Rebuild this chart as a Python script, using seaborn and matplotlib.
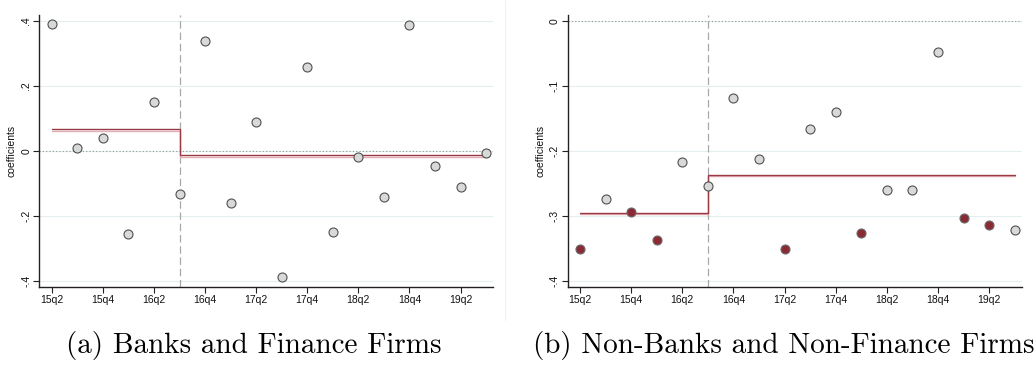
import seaborn as sns
import pandas as pd
from matplotlib import pyplot as plt
from matplotlib.lines import Line2D
from matplotlib.transforms import ScaledTranslation

quarters = ["15q2", "15q3", "15q4", "16q1", "16q2", "16q3", "16q4", "17q1", "17q2",
            "17q3", "17q4", "18q1", "18q2", "18q3", "18q4", "19q1", "19q2", "19q3"]

# panel a: banks and finance firms
coef_a = [0.391, 0.009, 0.040, -0.256, 0.149, -0.134, 0.338, -0.160, 0.090,
          -0.387, 0.257, -0.251, -0.018, -0.142, 0.386, -0.048, -0.111, -0.006]
sig_a = [0] * 18
step_a = [0.066, -0.014]

# panel b: non-banks and non-finance firms
coef_b = [-0.352, -0.274, -0.294, -0.338, -0.217, -0.254, -0.118, -0.213, -0.351,
          -0.166, -0.141, -0.326, -0.261, -0.260, -0.048, -0.304, -0.315, -0.322]
sig_b = [1, 0, 1, 1, 0, 0, 0, 0, 1, 0, 0, 1, 0, 0, 0, 1, 1, 0]
step_b = [-0.296, -0.237]

break_q = "16q3"

yticks_a = [0.4, 0.2, 0.0, -0.2, -0.4]
ylabels_a = [".4", ".2", "0", "-.2", "-.4"]
yticks_b = [0.0, -0.1, -0.2, -0.3, -0.4]
ylabels_b = ["0", "-.1", "-.2", "-.3", "-.4"]

captions = ["(a) Banks and Finance Firms", "(b) Non-Banks and Non-Finance Firms"]

sns.set_theme(style="white")
plt.rcParams['font.family'] = ['Liberation Sans', 'DejaVu Sans']

fig = plt.figure(figsize=(10.34, 3.68), dpi=100)
ax_a = fig.add_axes([0.0382, 0.220, 0.4386, 0.739])
ax_b = fig.add_axes([0.549, 0.220, 0.439, 0.739])

grey = "#d9d9d9"
red = "#8a2a35"
line_red = "#9a3a44"


def panel(ax, coef, sig, step, yticks, ylabels, ylim, caption, cx):
    df = pd.DataFrame(dict(q=range(len(quarters)), coef=coef, sig=sig))
    br = quarters.index(break_q)

    for yv in yticks:
        ax.axhline(yv, color="#e4eef0", lw=0.8, zorder=0)
    ax.axhline(0, color="#8f9a9a", lw=0.8, ls=(0, (1, 2)), zorder=1)
    ax.axvline(br, color="#a8a8a8", lw=0.9, ls=(0, (6, 3)), zorder=1)

    sx = [0, br, len(quarters) - 1]
    sy = [step[0], step[1], step[1]]
    shadow = ax.transData + ScaledTranslation(0, -1.2 / 100, fig.dpi_scale_trans)
    ax.plot(sx, sy, drawstyle="steps-post", color="#e3b0b4", lw=1.0, zorder=2, transform=shadow)
    ax.plot(sx, sy, drawstyle="steps-post", color=line_red, lw=1.0, zorder=3)

    sns.scatterplot(data=df[df.sig == 0], x="q", y="coef", ax=ax, color=grey,
                    edgecolor="#505050", linewidth=0.8, s=42, zorder=4)
    if df.sig.sum() > 0:
        sns.scatterplot(data=df[df.sig == 1], x="q", y="coef", ax=ax, color=red,
                        edgecolor="#6a6a6a", linewidth=0.8, s=42, zorder=4)

    ax.set_xlim(-0.48, 17.27)
    ax.set_ylim(*ylim)
    ax.set_xticks(range(0, len(quarters), 2))
    ax.set_xticklabels(quarters[::2], fontsize=7.5, color="#111111")
    ax.set_yticks(yticks)
    ax.set_yticklabels(ylabels, fontsize=7.5, rotation=90, va="center", color="#111111")
    ax.set_xlabel("")
    ax.set_ylabel("coefficients", fontsize=7.5, labelpad=3, color="#111111")
    ax.tick_params(axis="both", direction="out", length=4, width=0.8, color="#222222", pad=2, bottom=True, left=True)
    for s in ["top", "right"]:
        ax.spines[s].set_visible(False)
    for s in ["left", "bottom"]:
        ax.spines[s].set_color("#222222")
        ax.spines[s].set_linewidth(1.0)
    fig.text(cx, 0.06, caption, family="cmr10", fontsize=21, color="black", ha="center", va="center")


panel(ax_a, coef_a, sig_a, step_a, yticks_a, ylabels_a, (-0.419, 0.418), captions[0], 0.245)
panel(ax_b, coef_b, sig_b, step_b, yticks_b, ylabels_b, (-0.41, 0.009), captions[1], 0.758)

fig.add_artist(Line2D([0.488, 0.488], [0.13, 1.0], transform=fig.transFigure, color="#f0f0f0", lw=0.8))

fig.savefig("out.png", dpi=100)
